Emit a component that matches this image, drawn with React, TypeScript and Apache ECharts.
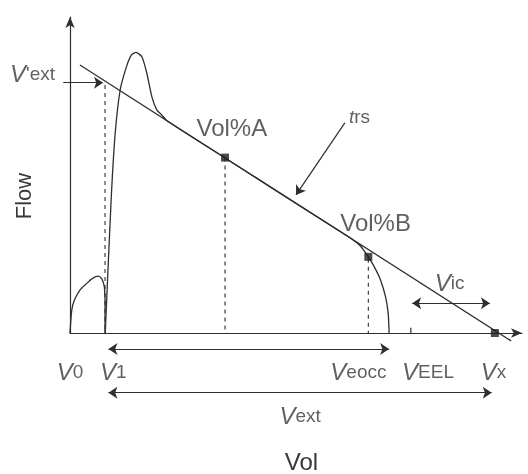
import React, { useEffect, useRef } from 'react';
import * as echarts from 'echarts';

const NARROW = "'Liberation Sans Narrow', 'Arial Narrow', 'Liberation Sans', Arial, sans-serif";
const REGULAR = "'Liberation Sans', Arial, sans-serif";
const INK = '#2e2e2e';
const TEXT = '#383838';

// Schematic units: Vol 0-100, Flow 0-100
const humpVol = [0, 0.4, 1.0, 2.2, 3.7, 5.0, 6.2, 7.0, 7.6, 7.75, 7.75];
const humpFlow = [0, 7.3, 10.5, 13.6, 15.7, 17.3, 18.0, 17.2, 14.6, 8, 0];

const mainVol = [7.8, 9.1, 10.0, 11.1, 12.5, 13.6, 14.6, 15.9, 17.0, 18.1, 19.2, 20.3, 21.5, 34.3, 50.0, 62.1, 64.2, 66.0, 67.3, 68.7, 69.8, 70.4, 70.6];
const mainFlow = [0, 42.1, 63.2, 76.9, 84.3, 88.0, 88.8, 87.4, 82.2, 74.8, 70.6, 69.0, 67.1, 55.4, 41.0, 30.0, 27.6, 24.1, 21.0, 16.8, 11.5, 6.2, 0];

const trsVol = [2.2, 97.6];
const trsFlow = [84.8, -2.5];

const markVol = [34.3, 66.0, 94.0];
const markFlow = [55.5, 24.1, 0];

const dropVol = [7.75, 34.3, 66.0];
const dropTop = [78.5, 55.5, 23.5];

const eelVol = 75.4;

// single-headed arrows: V'ext pointer, trs pointer
const oneArrowFrom = [[-1.5, 79.2], [60.8, 66.5]];
const oneArrowTo = [[7.3, 79.2], [50.0, 43.7]];
// double-headed spans: Veocc, Vext, Vic
const twoArrowFrom = [[8.5, -5.1], [8.5, -18.9], [75.7, 9.4]];
const twoArrowTo = [[70.6, -5.1], [93.3, -18.9], [92.9, 9.4]];

const labelText = ["V'ext", 'Vol%A', 'Vol%B', 'trs', 'Vic', 'V0', 'V1', 'Veocc', 'VEEL', 'Vx', 'Vext'];
const labelVol = [-3.3, 35.8, 67.6, 61.7, 84.0, 0, 9.6, 63.8, 79.2, 93.7, 50.9];
const labelFlow = [82.1, 65.0, 35.0, 68.5, 16.0, -12.2, -12.2, -12.2, -12.2, -12.2, -26.1];

const richMap: Record<string, string> = {
  "V'ext": "{v|V}{s|'ext}",
  'Vol%A': '{n|Vol%A}',
  'Vol%B': '{n|Vol%B}',
  trs: '{t|t}{s|rs}',
  Vic: '{v|V}{s|ic}',
  V0: '{v|V}{s|0}',
  V1: '{v|V}{s|1}',
  Veocc: '{v|V}{s|eocc}',
  VEEL: '{v|V}{s|EEL}',
  Vx: '{v|V}{s|x}',
  Vext: '{v|V}{s|ext}',
};
const alignMap: Record<string, string> = { "V'ext": 'right', trs: 'left' };

export default function App() {
  const ref = useRef<HTMLDivElement>(null);
  useEffect(() => {
    if (!ref.current) return;
    const chart = echarts.init(ref.current, null, { renderer: 'svg' });
    const zip = (a: number[], b: number[]) => a.map((x, i) => [x, b[i]]);
    const rich = {
      v: { fontFamily: NARROW, fontSize: 24, fontStyle: 'italic', color: TEXT },
      s: { fontFamily: NARROW, fontSize: 19, color: TEXT },
      t: { fontFamily: NARROW, fontSize: 19, fontStyle: 'italic', color: TEXT },
      n: { fontFamily: NARROW, fontSize: 24, color: TEXT },
    };
    const option: any = {
      animation: false,
      grid: { left: 70, right: 6, top: 17, bottom: 141, containLabel: false, outerBoundsMode: 'none' },
      xAxis: {
        type: 'value', min: 0, max: 100,
        name: 'Vol', nameLocation: 'middle', nameGap: 116,
        nameTextStyle: { fontFamily: NARROW, fontSize: 24, color: TEXT, padding: [0, 0, 0, 11] },
        axisLine: { show: true, symbol: ['none', 'arrow'], symbolSize: [7, 11], lineStyle: { color: INK, width: 1.2 } },
        axisTick: { show: false }, axisLabel: { show: false }, splitLine: { show: false },
      },
      yAxis: {
        type: 'value', min: 0, max: 100,
        name: 'Flow', nameLocation: 'middle', nameGap: 36, nameRotate: 90,
        nameTextStyle: { fontFamily: REGULAR, fontSize: 22, color: TEXT, padding: [0, 42, 0, 0] },
        axisLine: { show: true, symbol: ['none', 'arrow'], symbolSize: [7, 11], lineStyle: { color: INK, width: 1.2 } },
        axisTick: { show: false }, axisLabel: { show: false }, splitLine: { show: false },
      },
      series: [
        {
          name: 'hump', type: 'line', data: zip(humpVol, humpFlow), showSymbol: false, smooth: 0.25,
          lineStyle: { color: INK, width: 1.3 }, clip: false, silent: true,
        },
        {
          name: 'flow', type: 'line', data: zip(mainVol, mainFlow), showSymbol: false, smooth: 0.2,
          lineStyle: { color: INK, width: 1.3 }, clip: false, silent: true,
        },
        {
          name: 'trs', type: 'line', data: zip(trsVol, trsFlow), showSymbol: false,
          lineStyle: { color: INK, width: 1.3 }, clip: false, silent: true,
        },
        ...dropVol.map((x, i) => ({
          name: 'drop' + i, type: 'line', data: [[x, dropTop[i]], [x, 0]], showSymbol: false,
          lineStyle: { color: INK, width: 1.1, type: [4, 4] }, silent: true,
        })),
        {
          name: 'eelTick', type: 'line', data: [[eelVol, 0], [eelVol, 1.7]], showSymbol: false,
          lineStyle: { color: INK, width: 1.2 }, silent: true,
        },
        {
          name: 'pointers', type: 'lines', coordinateSystem: 'cartesian2d', clip: false, silent: true,
          symbol: ['none', 'arrow'], symbolSize: 9,
          lineStyle: { color: INK, width: 1.2, opacity: 1 },
          data: oneArrowFrom.map((f, i) => ({ coords: [f, oneArrowTo[i]] })),
        },
        {
          name: 'spans', type: 'lines', coordinateSystem: 'cartesian2d', clip: false, silent: true,
          symbol: ['arrow', 'arrow'], symbolSize: 9,
          lineStyle: { color: INK, width: 1.2, opacity: 1 },
          data: twoArrowFrom.map((f, i) => ({ coords: [f, twoArrowTo[i]] })),
        },
        {
          name: 'marks', type: 'scatter', symbol: 'rect', symbolSize: 8, clip: false, silent: true,
          itemStyle: { color: '#1e1e1e' }, data: zip(markVol, markFlow), z: 5,
        },
        {
          name: 'labels', type: 'scatter', symbolSize: 1, clip: false, silent: true,
          itemStyle: { color: 'transparent' },
          data: labelText.map((t, i) => ({
            value: [labelVol[i], labelFlow[i]],
            name: t,
            label: {
              show: true, position: 'inside', formatter: richMap[t], rich,
              align: alignMap[t] || 'center', verticalAlign: 'middle',
            },
          })),
        },
      ],
    };
    chart.setOption(option);
    return () => chart.dispose();
  }, []);
  return <div ref={ref} style={{ position: 'fixed', left: 0, top: 0, width: 528, height: 474 }} />;
}
